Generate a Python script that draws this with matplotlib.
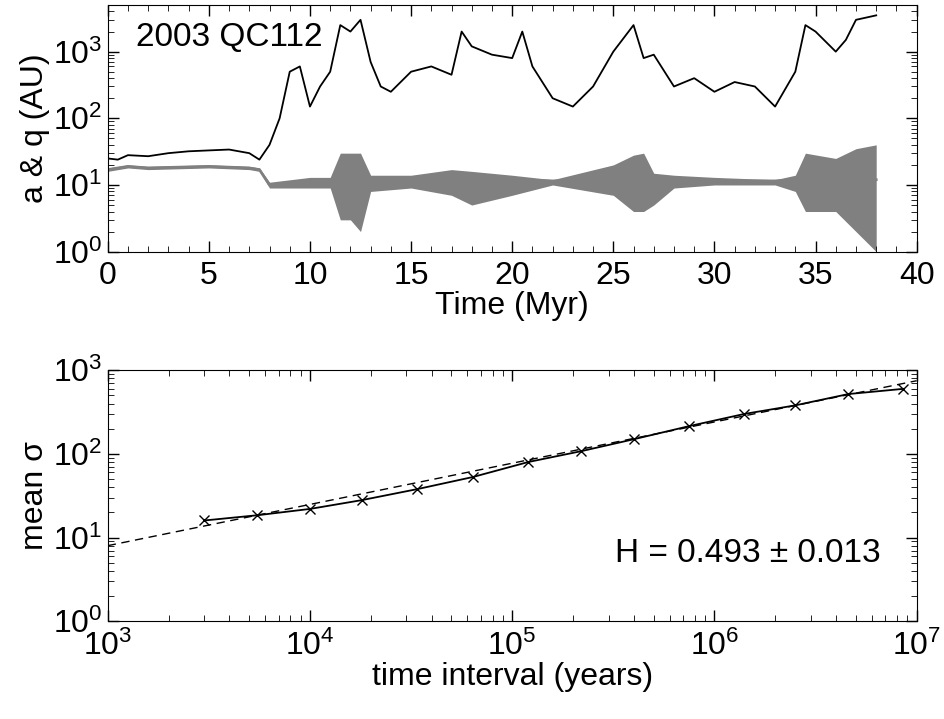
import numpy as np
import matplotlib
matplotlib.use("Agg")
import matplotlib.pyplot as plt
from matplotlib.ticker import LogLocator, NullFormatter, MultipleLocator

# semimajor axis a (AU) vs time (Myr)
t_a = [0, 0.5, 1, 2, 3, 4, 5, 6, 7, 7.5, 8, 8.5, 9, 9.5, 10, 10.5, 11, 11.5, 12, 12.5,
       13, 13.5, 14, 15, 16, 17, 17.5, 18, 19, 20, 20.5, 21, 22, 23, 24, 25, 26, 26.5,
       27, 28, 29, 30, 31, 32, 33, 34, 34.5, 35, 36, 36.5, 37, 38]
a_val = [25, 24, 28, 27, 30, 32, 33, 34, 30, 24, 40, 100, 500, 600, 150, 300, 500, 2500, 2000, 3000,
         700, 300, 250, 500, 600, 450, 2000, 1200, 900, 800, 2000, 600, 200, 150, 300, 1000, 2500, 800,
         900, 300, 400, 250, 350, 300, 150, 500, 2500, 2000, 1000, 1500, 3000, 3500]

# perihelion q: center and envelope
t_q = [0, 1, 2, 5, 7, 7.5, 8, 10, 11, 11.5, 12, 12.5, 13, 15, 17, 18, 20, 22, 25, 26,
       26.5, 27, 28, 30, 33, 34, 34.5, 36, 37, 38]
q_mid = [17, 19, 18, 19, 18, 17, 10, 11, 11, 11.5, 12, 12, 12, 12, 12, 12, 12, 11.5, 12, 12,
         12, 12, 11.5, 11.5, 11.5, 12, 12, 12, 12, 12]
q_hi = [18, 20, 19, 20, 19, 18, 11, 13, 13, 30, 30, 30, 14, 14, 17, 16, 14, 12, 20, 28,
        30, 15, 14, 13, 12, 14, 30, 25, 35, 40]
q_lo = [16, 18, 17, 18, 17, 16, 9, 9, 9, 3, 3, 2, 8, 9, 7, 5, 7, 10, 7, 4,
        4, 5, 9, 10, 10, 8, 4, 4, 2, 1]

# mean sigma vs time interval
dt = [3e3, 5.5e3, 1e4, 1.8e4, 3.4e4, 6.4e4, 1.2e5, 2.2e5, 4e5, 7.5e5, 1.4e6, 2.5e6, 4.6e6, 8.6e6]
sig = [16, 18.5, 22, 28, 38, 53, 80, 108, 150, 215, 300, 380, 520, 600]
H = 0.493
fit_c = 8.0  # sigma at 1e3 yr

plt.rcParams['font.family'] = 'Liberation Sans'
plt.rcParams['font.size'] = 23

fig = plt.figure(figsize=(9.45, 7.19), dpi=100)
ax1 = fig.add_axes([0.114, 0.650, 0.856, 0.343])
ax2 = fig.add_axes([0.114, 0.136, 0.856, 0.349])

ax1.fill_between(t_q, q_lo, q_hi, color='#808080', lw=0)
ax1.plot(t_q, q_mid, color='#808080', lw=2)
ax1.plot(t_a, a_val, color='black', lw=1.3)
ax1.set_yscale('log')
ax1.set_xlim(0, 40)
ax1.set_ylim(1, 5000)
ax1.set_xlabel('Time (Myr)', labelpad=0)
ax1.set_ylabel('a & q (AU)', labelpad=2)
ax1.xaxis.set_major_locator(MultipleLocator(5))
ax1.xaxis.set_minor_locator(MultipleLocator(1))
ax1.text(0.035, 0.93, '2003 QC112', transform=ax1.transAxes, va='top', fontsize=24)

xf = np.array([1e3, 1e7])
ax2.plot(xf, fit_c * (xf / 1e3) ** H, color='black', ls=(0, (6, 4)), lw=1)
ax2.plot(dt, sig, color='black', marker='x', ms=7, lw=1.3)
ax2.set_xscale('log')
ax2.set_yscale('log')
ax2.set_xlim(1e3, 1e7)
ax2.set_ylim(1, 1e3)
ax2.set_xlabel('time interval (years)', labelpad=0)
ax2.set_ylabel('mean σ', labelpad=2)
ax2.text(0.955, 0.27, 'H = 0.493 ± 0.013', transform=ax2.transAxes, ha='right', va='center', fontsize=24)

for ax in (ax1, ax2):
    ax.tick_params(which='both', direction='in', top=True, right=True)
    ax.tick_params(which='major', length=8, width=1)
    ax.tick_params(which='minor', length=4)
    ax.tick_params(axis='x', pad=7)
    ax.tick_params(axis='y', pad=4)
    ax.yaxis.set_major_locator(LogLocator(base=10, numticks=10))
    ax.yaxis.set_minor_locator(LogLocator(base=10, subs=np.arange(2, 10), numticks=10))
    ax.yaxis.set_minor_formatter(NullFormatter())
ax2.xaxis.set_minor_formatter(NullFormatter())

fig.savefig('out.png', dpi=100)
